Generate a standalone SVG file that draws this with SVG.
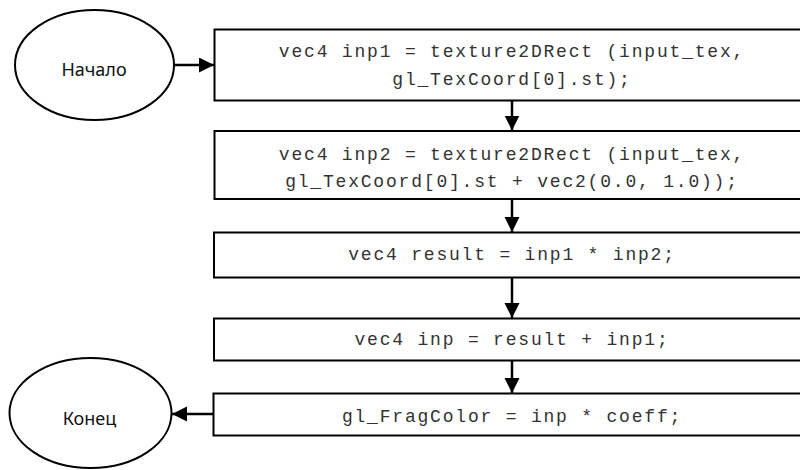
<svg xmlns="http://www.w3.org/2000/svg" width="800" height="470" viewBox="0 0 800 470">
<style>
.box{fill:#fff;stroke:#000;stroke-width:2}
.oval{fill:#fff;stroke:#000;stroke-width:2}
.code{font-family:"Liberation Mono","Courier New",monospace;font-size:18px;letter-spacing:1.8px;fill:#333;text-anchor:middle}
.lbl{font-family:"Noto Sans","Open Sans",sans-serif;font-size:18px;fill:#111;text-anchor:middle}
.conn{stroke:#000;stroke-width:2.5;fill:none}
</style>
<defs>
<marker id="ah" markerUnits="userSpaceOnUse" markerWidth="16" markerHeight="16" refX="15" refY="7.5" orient="auto">
<path d="M0,0 L15,7.5 L0,15 z" fill="#000"/>
</marker>
</defs>
<rect width="800" height="470" fill="#fff"/>
<g id="start">
<ellipse class="oval" cx="94.5" cy="65" rx="79.5" ry="55"/>
<text class="lbl" x="94" y="75.5">Начало</text>
</g>
<g id="step1">
<rect class="box" x="214.5" y="29.5" width="600" height="71"/>
<text class="code" x="512" y="57">vec4 inp1 = texture2DRect (input_tex,</text>
<text class="code" x="512" y="85">gl_TexCoord[0].st);</text>
</g>
<g id="step2">
<rect class="box" x="214.5" y="131" width="600" height="68"/>
<text class="code" x="512" y="160">vec4 inp2 = texture2DRect (input_tex,</text>
<text class="code" x="512" y="187">gl_TexCoord[0].st + vec2(0.0, 1.0));</text>
</g>
<g id="step3">
<rect class="box" x="214" y="232.5" width="600" height="45"/>
<text class="code" x="512" y="259.5">vec4 result = inp1 * inp2;</text>
</g>
<g id="step4">
<rect class="box" x="214" y="318.5" width="600" height="42"/>
<text class="code" x="512" y="345">vec4 inp = result + inp1;</text>
</g>
<g id="step5">
<rect class="box" x="213.5" y="393.5" width="600" height="42"/>
<text class="code" x="512" y="421.5">gl_FragColor = inp * coeff;</text>
</g>
<g id="end">
<ellipse class="oval" cx="90.5" cy="413" rx="81" ry="55"/>
<text class="lbl" x="89.5" y="424.5">Конец</text>
</g>
<g id="connectors">
<line class="conn" x1="174" y1="65" x2="214" y2="65" marker-end="url(#ah)"/>
<line class="conn" x1="512" y1="100.5" x2="512" y2="130.5" marker-end="url(#ah)"/>
<line class="conn" x1="512" y1="199" x2="512" y2="232" marker-end="url(#ah)"/>
<line class="conn" x1="512" y1="277.5" x2="512" y2="318" marker-end="url(#ah)"/>
<line class="conn" x1="512" y1="360.5" x2="512" y2="393" marker-end="url(#ah)"/>
<line class="conn" x1="213" y1="414" x2="172" y2="414" marker-end="url(#ah)"/>
</g>
</svg>
